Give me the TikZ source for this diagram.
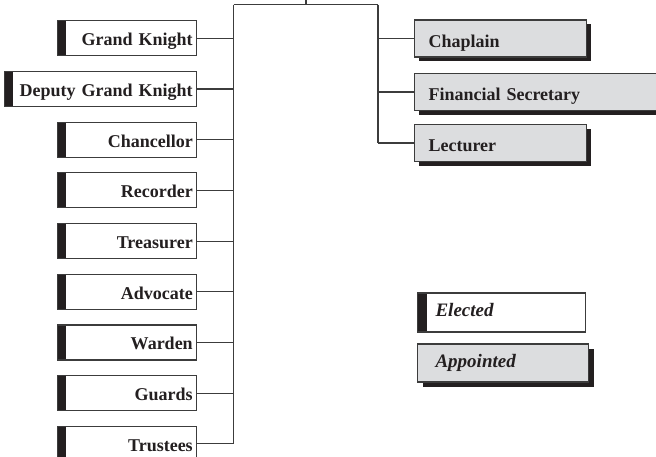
\documentclass[tikz,border=0pt]{standalone}
\usepackage{fontspec}
\setmainfont{Liberation Serif}
\usetikzlibrary{matrix,shadows}
\definecolor{barcol}{HTML}{231F20}
\definecolor{boxgray}{HTML}{DCDDDF}
\definecolor{linecol}{HTML}{3C3C3C}
\tikzset{
  conn/.style={draw=linecol,line width=1.1pt},
  office/.style={draw=linecol,line width=1.1pt,fill=white,minimum height=35pt,
    text height=17pt,text depth=2pt,inner xsep=4pt,text width=131pt,align=right,
    font=\bfseries\fontsize{18}{20}\selectfont,text=barcol,
    path picture={\fill[barcol] (path picture bounding box.south west) rectangle ([xshift=8pt]path picture bounding box.north west);}},
  appointee/.style={draw=linecol,line width=1.1pt,fill=boxgray,minimum height=37pt,
    text height=19pt,text depth=2pt,inner xsep=14pt,text width=144pt,align=left,
    font=\bfseries\fontsize{18}{20}\selectfont,text=barcol,
    general shadow={fill=barcol,shadow xshift=4pt,shadow yshift=-4pt}},
  keybox/.style={draw=linecol,line width=1.1pt,minimum height=38pt,
    text height=12pt,text depth=4pt,inner xsep=18pt,align=left,
    font=\bfseries\itshape\fontsize{19}{21}\selectfont,text=barcol}
}
\begin{document}
\begin{tikzpicture}[x=1pt,y=-1pt]
        \path[use as bounding box,clip] (0,0) rectangle (656,456);
        \matrix (m) [matrix of nodes,nodes={office,anchor=east},row sep=14.6pt,
          inner sep=0pt,anchor=north east] at (197.5,20) {
          Grand Knight \\
          |[text width=184pt]| Deputy Grand Knight \\
          Chancellor \\
          Recorder \\
          Treasurer \\
          Advocate \\
          Warden \\
          Guards \\
          Trustees \\
        };
        \node[appointee,anchor=west] (chap) at (414,38.5) {Chaplain};
        \node[appointee,anchor=west,text width=222pt] (fin) at (414,92) {Financial Secretary};
        \node[appointee,anchor=west] (lect) at (414,143) {Lecturer};
        \node[keybox,fill=white,minimum height=39pt,text width=132pt,
          path picture={\fill[barcol] (path picture bounding box.south west) rectangle ([xshift=9pt]path picture bounding box.north west);}]
          (elec) at (417,312.5) [anchor=west] {Elected};
        \node[keybox,fill=boxgray,text width=135pt,
          general shadow={fill=barcol,shadow xshift=5pt,shadow yshift=-5pt}]
          (appt) at (417,363) [anchor=west] {Appointed};
        \coordinate (ltop) at (233.5,4.5);
        \coordinate (rtop) at (378,4.5);
        \coordinate (up) at (306,-5);
        \draw[conn] (up) -- (up |- ltop);
        \draw[conn] (ltop) -- (rtop);
        \draw[conn] (ltop) -- (ltop |- m-9-1);
        \draw[conn] (rtop) -- (rtop |- lect);
        \draw[conn] (m-1-1) -- (m-1-1 -| ltop);
        \draw[conn] (m-2-1) -- (m-2-1 -| ltop);
        \draw[conn] (m-3-1) -- (m-3-1 -| ltop);
        \draw[conn] (m-4-1) -- (m-4-1 -| ltop);
        \draw[conn] (m-5-1) -- (m-5-1 -| ltop);
        \draw[conn] (m-6-1) -- (m-6-1 -| ltop);
        \draw[conn] (m-7-1) -- (m-7-1 -| ltop);
        \draw[conn] (m-8-1) -- (m-8-1 -| ltop);
        \draw[conn] (m-9-1) -- (m-9-1 -| ltop);
        \draw[conn] (rtop |- chap) -- (chap);
        \draw[conn] (rtop |- fin) -- (fin);
        \draw[conn] (rtop |- lect) -- (lect);
    \end{tikzpicture}
\end{document}
